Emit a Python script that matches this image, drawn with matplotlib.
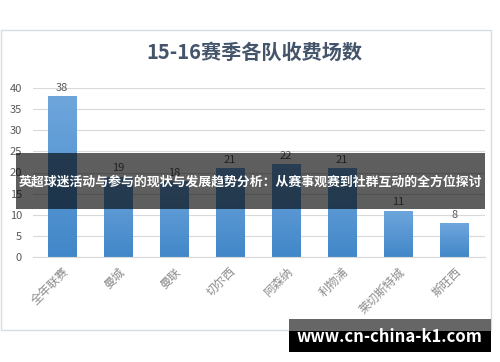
import numpy as np
import matplotlib.pyplot as plt
from matplotlib.patches import Rectangle

plt.rcParams['font.family'] = ['Noto Sans CJK SC', 'DejaVu Sans']

teams = ["全年联赛", "曼城", "曼联", "切尔西", "阿森纳", "利物浦", "莱切斯特城", "斯旺西"]
games = [38, 19, 18, 21, 22, 21, 11, 8]
yticks = [0, 5, 10, 15, 20, 25, 30, 35, 40]
title = "15-16赛季各队收费场数"
banner = "英超球迷活动与参与的现状与发展趋势分析：从赛事观赛到社群互动的全方位探讨"
site = "www.cn-china-k1.com"

W, H = 500, 362
fig = plt.figure(figsize=(W / 100, H / 100), dpi=100)
fig.patch.set_facecolor("white")

# cadre du graphique
fig.patches.append(Rectangle((0.5 / W, 1 - 330 / H), 490 / W, 300 / H,
                             transform=fig.transFigure, fill=False,
                             edgecolor="#D6DCE4", lw=1.0))

ax = fig.add_axes([33 / W, 1 - 257 / H, 452 / W, 169 / H])
x = np.arange(len(teams))
bars = ax.bar(x, games, width=0.5, color="#5B9BD5", zorder=2)

# dégradé vertical dans chaque barre
grad = np.linspace(0, 1, 100).reshape(-1, 1)
cmap = plt.matplotlib.colors.LinearSegmentedColormap.from_list("b", ["#4287C9", "#6EA6DC"])
for b in bars:
    im = ax.imshow(grad, cmap=cmap, aspect="auto", origin="lower", zorder=2.5,
                   extent=[b.get_x(), b.get_x() + b.get_width(), 0, b.get_height()])
    im.set_clip_path(b)

for xi, v in zip(x, games):
    ax.text(xi, v + 0.8, str(v), ha="center", va="bottom", fontsize=8, color="#595959")

ax.set_xlim(-0.52, 7.55)
ax.set_ylim(0, 40)
ax.set_yticks(yticks)
ax.set_yticklabels([str(t) for t in yticks], fontsize=8, color="#595959")
ax.set_xticks(x)
ax.set_xticklabels(teams, rotation=45, ha="right", rotation_mode="anchor",
                   fontsize=8.5, color="#8C8C8C")
ax.tick_params(length=0, pad=6)
ax.tick_params(axis="y", pad=8)
ax.grid(axis="y", color="#D9D9D9", lw=0.8, zorder=0)
for s in ["top", "right", "left"]:
    ax.spines[s].set_visible(False)
ax.spines["bottom"].set_color("#D9D9D9")

fig.text(254 / W, 1 - 52 / H, title, ha="center", va="center",
         fontsize=14.5, fontweight="bold", color="#44546A")

# bandeau
fig.patches.append(Rectangle((16 / W, 1 - 209 / H), 469 / W, 56 / H,
                             transform=fig.transFigure, facecolor="black",
                             edgecolor="none", alpha=0.63, zorder=5))
fig.text(250 / W, 1 - 182 / H, banner, ha="center", va="center",
         fontsize=9.3, fontweight="bold", color="white", zorder=6)

# filigrane
fig.patches.append(Rectangle((289 / W, 1 - 331 / H), 202 / W, 12 / H,
                             transform=fig.transFigure, facecolor="#666666",
                             edgecolor="none", zorder=5))
fig.patches.append(Rectangle((289 / W, 1 - 352 / H), 202 / W, 21 / H,
                             transform=fig.transFigure, facecolor="black",
                             edgecolor="none", zorder=5))
fig.text(389 / W, 1 - 337 / H, site, ha="center", va="center",
         fontsize=12, fontweight="bold", color="white", zorder=6)

fig.savefig("out.png", dpi=100)
